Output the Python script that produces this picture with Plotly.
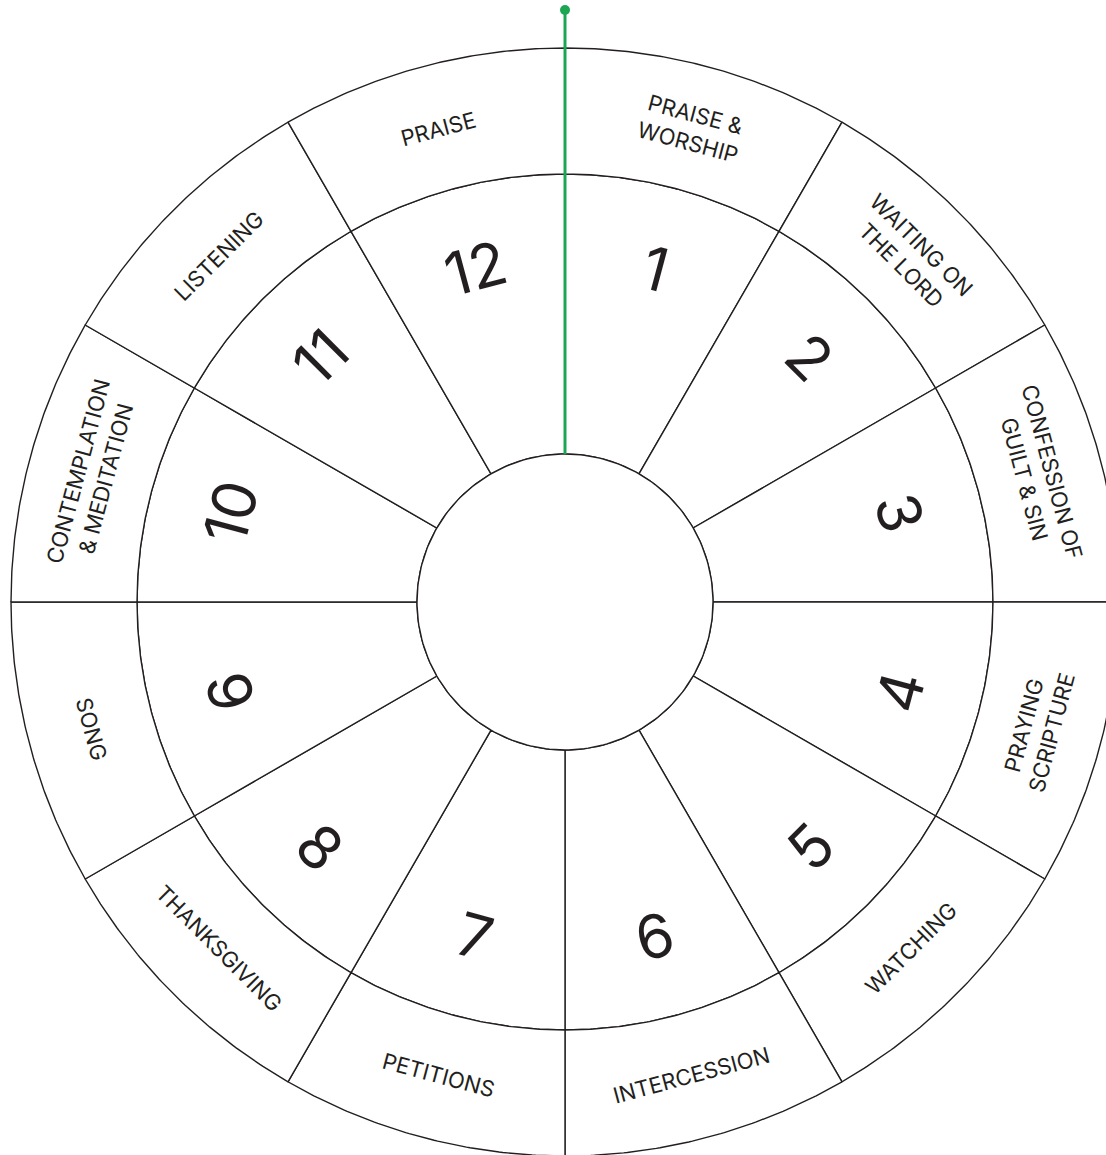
import numpy as np
import plotly.graph_objects as go

# ---- data ----
numbers = ["1", "2", "3", "4", "5", "6", "7", "8", "9", "10", "11", "12"]
practices = [
    "PRAISE &<br>WORSHIP",
    "WAITING ON<br>THE LORD",
    "CONFESSION OF<br>GUILT & SIN",
    "PRAYING<br>SCRIPTURE",
    "WATCHING",
    "INTERCESSION",
    "PETITIONS",
    "THANKSGIVING",
    "SONG",
    "CONTEMPLATION<br>& MEDITATION",
    "LISTENING",
    "PRAISE",
]

# ---- geometry / style ----
W, H = 1106, 1155
CX, CY = 565, 602          # wheel centre in pixels from left / top
R_HUB, R_MID, R_OUT = 148, 428, 554
R_NUM, R_LAB = 346, 490
LINE = "#231f20"
GREEN = "#1ca653"
FONT = "Inter, Lato, sans-serif"

n = len(numbers)
step = 360 / n


def pol(r, deg):
    t = np.radians(deg)
    return r * np.sin(t), r * np.cos(t)


def cell(r_in, r_out, a0, a1):
    a = np.linspace(a0, a1, 80)
    xo, yo = pol(r_out, a)
    xi, yi = pol(r_in, a[::-1])
    xs = np.concatenate([xo, xi, xo[:1]])
    ys = np.concatenate([yo, yi, yo[:1]])
    return xs, ys


fig = go.Figure()

for i in range(n):
    a0, a1 = i * step, (i + 1) * step
    for r_in, r_out in [(R_HUB, R_MID), (R_MID, R_OUT)]:
        xs, ys = cell(r_in, r_out, a0, a1)
        fig.add_trace(go.Scatter(
            x=xs, y=ys, mode="lines", fill="toself", fillcolor="white",
            line=dict(color=LINE, width=1.4), hoverinfo="skip", showlegend=False))

# hub
a = np.linspace(0, 360, 241)
hx, hy = pol(R_HUB, a)
fig.add_trace(go.Scatter(x=hx, y=hy, mode="lines", fill="toself", fillcolor="white",
                         line=dict(color=LINE, width=1.4), hoverinfo="skip", showlegend=False))

# green pointer at 12 o'clock
top_y = CY - 10
fig.add_trace(go.Scatter(x=[0, 0], y=[R_HUB, top_y], mode="lines",
                         line=dict(color=GREEN, width=3), hoverinfo="skip", showlegend=False))
fig.add_trace(go.Scatter(x=[0], y=[top_y], mode="markers", cliponaxis=False,
                         marker=dict(color=GREEN, size=10), hoverinfo="skip", showlegend=False))


def rot(deg):
    if deg < 90:
        return deg
    if deg > 270:
        return deg - 360
    return deg - 180


annotations = []
for i in range(n):
    mid = (i + 0.5) * step
    x, y = pol(R_NUM, mid)
    annotations.append(dict(x=x, y=y, xref="x", yref="y", text=numbers[i], showarrow=False,
                            textangle=rot(mid), xanchor="center", yanchor="middle",
                            font=dict(family=FONT, size=60, color=LINE)))
    x, y = pol(R_LAB, mid)
    annotations.append(dict(x=x, y=y, xref="x", yref="y", text=practices[i], showarrow=False,
                            textangle=rot(mid), xanchor="center", yanchor="middle", align="center",
                            font=dict(family=FONT, size=22, color=LINE)))

fig.update_layout(
    width=W, height=H,
    margin=dict(l=0, r=0, t=0, b=0),
    paper_bgcolor="white", plot_bgcolor="white",
    xaxis=dict(range=[-CX, W - CX], visible=False, fixedrange=True),
    yaxis=dict(range=[-(H - CY), CY], visible=False, fixedrange=True),
    annotations=annotations,
    showlegend=False,
)

fig.write_html(
    "out.html",
    config={"displayModeBar": False, "staticPlot": True},
    post_script="document.body.style.margin='0px';document.body.style.overflow='hidden';",
)
